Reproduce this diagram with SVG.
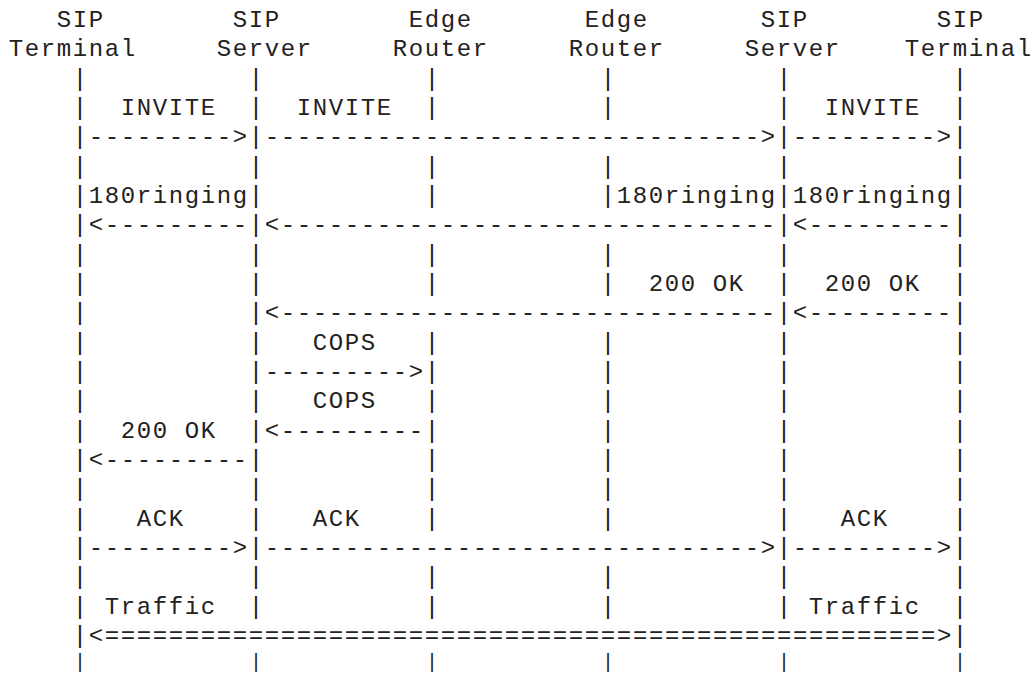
<svg xmlns="http://www.w3.org/2000/svg" width="1034" height="674" viewBox="0 0 1034 674">
  <style>
    /* monospace grid: 16px per column, 29.33px per row */
    .t { font-family: "Liberation Mono", "Courier New", monospace; font-size: 24px; letter-spacing: 1.6px; fill: #222; white-space: pre; }
    .bar { font-family: "Liberation Mono", "Courier New", monospace; font-size: 24px; text-anchor: middle; fill: #222; }
    .bar .end { font-size: 20px; }
  </style>
  <rect width="1034" height="674" fill="#fff"/>

  <!-- participants: header label and lifeline -->
  <g id="sip-terminal-left">
    <text class="t" x="56.8" y="27">SIP</text>
    <text class="t" x="8.8" y="56.33">Terminal</text>
    <text class="bar">
      <tspan x="80" y="85.67">|</tspan><tspan x="80" y="115">|</tspan><tspan x="80" y="144.33">|</tspan><tspan x="80" y="173.67">|</tspan><tspan x="80" y="203">|</tspan><tspan x="80" y="232.33">|</tspan><tspan x="80" y="261.67">|</tspan><tspan x="80" y="291">|</tspan><tspan x="80" y="320.33">|</tspan><tspan x="80" y="349.67">|</tspan><tspan x="80" y="379">|</tspan><tspan x="80" y="408.33">|</tspan><tspan x="80" y="437.67">|</tspan><tspan x="80" y="467">|</tspan><tspan x="80" y="496.33">|</tspan><tspan x="80" y="525.67">|</tspan><tspan x="80" y="555">|</tspan><tspan x="80" y="584.33">|</tspan><tspan x="80" y="613.67">|</tspan><tspan x="80" y="643">|</tspan><tspan class="end" x="80" y="667.8">|</tspan>
    </text>
  </g>

  <g id="sip-server-left">
    <text class="t" x="232.8" y="27">SIP</text>
    <text class="t" x="216.8" y="56.33">Server</text>
    <text class="bar">
      <tspan x="256" y="85.67">|</tspan><tspan x="256" y="115">|</tspan><tspan x="256" y="144.33">|</tspan><tspan x="256" y="173.67">|</tspan><tspan x="256" y="203">|</tspan><tspan x="256" y="232.33">|</tspan><tspan x="256" y="261.67">|</tspan><tspan x="256" y="291">|</tspan><tspan x="256" y="320.33">|</tspan><tspan x="256" y="349.67">|</tspan><tspan x="256" y="379">|</tspan><tspan x="256" y="408.33">|</tspan><tspan x="256" y="437.67">|</tspan><tspan x="256" y="467">|</tspan><tspan x="256" y="496.33">|</tspan><tspan x="256" y="525.67">|</tspan><tspan x="256" y="555">|</tspan><tspan x="256" y="584.33">|</tspan><tspan x="256" y="613.67">|</tspan><tspan class="end" x="256" y="667.8">|</tspan>
    </text>
  </g>

  <g id="edge-router-left">
    <text class="t" x="408.8" y="27">Edge</text>
    <text class="t" x="392.8" y="56.33">Router</text>
    <text class="bar">
      <tspan x="432" y="85.67">|</tspan><tspan x="432" y="115">|</tspan><tspan x="432" y="173.67">|</tspan><tspan x="432" y="203">|</tspan><tspan x="432" y="261.67">|</tspan><tspan x="432" y="291">|</tspan><tspan x="432" y="349.67">|</tspan><tspan x="432" y="379">|</tspan><tspan x="432" y="408.33">|</tspan><tspan x="432" y="437.67">|</tspan><tspan x="432" y="467">|</tspan><tspan x="432" y="496.33">|</tspan><tspan x="432" y="525.67">|</tspan><tspan x="432" y="584.33">|</tspan><tspan x="432" y="613.67">|</tspan><tspan class="end" x="432" y="667.8">|</tspan>
    </text>
  </g>

  <g id="edge-router-right">
    <text class="t" x="584.8" y="27">Edge</text>
    <text class="t" x="568.8" y="56.33">Router</text>
    <text class="bar">
      <tspan x="608" y="85.67">|</tspan><tspan x="608" y="115">|</tspan><tspan x="608" y="173.67">|</tspan><tspan x="608" y="203">|</tspan><tspan x="608" y="261.67">|</tspan><tspan x="608" y="291">|</tspan><tspan x="608" y="349.67">|</tspan><tspan x="608" y="379">|</tspan><tspan x="608" y="408.33">|</tspan><tspan x="608" y="437.67">|</tspan><tspan x="608" y="467">|</tspan><tspan x="608" y="496.33">|</tspan><tspan x="608" y="525.67">|</tspan><tspan x="608" y="584.33">|</tspan><tspan x="608" y="613.67">|</tspan><tspan class="end" x="608" y="667.8">|</tspan>
    </text>
  </g>

  <g id="sip-server-right">
    <text class="t" x="760.8" y="27">SIP</text>
    <text class="t" x="744.8" y="56.33">Server</text>
    <text class="bar">
      <tspan x="784" y="85.67">|</tspan><tspan x="784" y="115">|</tspan><tspan x="784" y="144.33">|</tspan><tspan x="784" y="173.67">|</tspan><tspan x="784" y="203">|</tspan><tspan x="784" y="232.33">|</tspan><tspan x="784" y="261.67">|</tspan><tspan x="784" y="291">|</tspan><tspan x="784" y="320.33">|</tspan><tspan x="784" y="349.67">|</tspan><tspan x="784" y="379">|</tspan><tspan x="784" y="408.33">|</tspan><tspan x="784" y="437.67">|</tspan><tspan x="784" y="467">|</tspan><tspan x="784" y="496.33">|</tspan><tspan x="784" y="525.67">|</tspan><tspan x="784" y="555">|</tspan><tspan x="784" y="584.33">|</tspan><tspan x="784" y="613.67">|</tspan><tspan class="end" x="784" y="667.8">|</tspan>
    </text>
  </g>

  <g id="sip-terminal-right">
    <text class="t" x="936.8" y="27">SIP</text>
    <text class="t" x="904.8" y="56.33">Terminal</text>
    <text class="bar">
      <tspan x="960" y="85.67">|</tspan><tspan x="960" y="115">|</tspan><tspan x="960" y="144.33">|</tspan><tspan x="960" y="173.67">|</tspan><tspan x="960" y="203">|</tspan><tspan x="960" y="232.33">|</tspan><tspan x="960" y="261.67">|</tspan><tspan x="960" y="291">|</tspan><tspan x="960" y="320.33">|</tspan><tspan x="960" y="349.67">|</tspan><tspan x="960" y="379">|</tspan><tspan x="960" y="408.33">|</tspan><tspan x="960" y="437.67">|</tspan><tspan x="960" y="467">|</tspan><tspan x="960" y="496.33">|</tspan><tspan x="960" y="525.67">|</tspan><tspan x="960" y="555">|</tspan><tspan x="960" y="584.33">|</tspan><tspan x="960" y="613.67">|</tspan><tspan x="960" y="643">|</tspan><tspan class="end" x="960" y="667.8">|</tspan>
    </text>
  </g>

  <!-- messages drawn as character arrows -->
  <g id="connectors">
    <!-- INVITE -->
    <text class="t" x="88.8" y="144.33">---------&gt;</text>
    <text class="t" x="264.8" y="144.33">-------------------------------&gt;</text>
    <text class="t" x="792.8" y="144.33">---------&gt;</text>
    <!-- 180 ringing -->
    <text class="t" x="88.8" y="232.33">&lt;---------</text>
    <text class="t" x="264.8" y="232.33">&lt;-------------------------------</text>
    <text class="t" x="792.8" y="232.33">&lt;---------</text>
    <!-- 200 OK towards the calling server -->
    <text class="t" x="264.8" y="320.33">&lt;-------------------------------</text>
    <text class="t" x="792.8" y="320.33">&lt;---------</text>
    <!-- COPS exchange -->
    <text class="t" x="264.8" y="379">---------&gt;</text>
    <text class="t" x="264.8" y="437.67">&lt;---------</text>
    <!-- 200 OK to the caller -->
    <text class="t" x="88.8" y="467">&lt;---------</text>
    <!-- ACK -->
    <text class="t" x="88.8" y="555">---------&gt;</text>
    <text class="t" x="264.8" y="555">-------------------------------&gt;</text>
    <text class="t" x="792.8" y="555">---------&gt;</text>
    <!-- media traffic -->
    <text class="t" x="88.8" y="643">&lt;====================================================&gt;</text>
  </g>

  <!-- message labels -->
  <g id="labels">
    <text class="t" x="120.8" y="115">INVITE</text>
    <text class="t" x="296.8" y="115">INVITE</text>
    <text class="t" x="824.8" y="115">INVITE</text>
    <text class="t" x="88.8" y="203">180ringing</text>
    <text class="t" x="616.8" y="203">180ringing</text>
    <text class="t" x="792.8" y="203">180ringing</text>
    <text class="t" x="648.8" y="291">200 OK</text>
    <text class="t" x="824.8" y="291">200 OK</text>
    <text class="t" x="312.8" y="349.67">COPS</text>
    <text class="t" x="312.8" y="408.33">COPS</text>
    <text class="t" x="120.8" y="437.67">200 OK</text>
    <text class="t" x="136.8" y="525.67">ACK</text>
    <text class="t" x="312.8" y="525.67">ACK</text>
    <text class="t" x="840.8" y="525.67">ACK</text>
    <text class="t" x="104.8" y="613.67">Traffic</text>
    <text class="t" x="808.8" y="613.67">Traffic</text>
  </g>
</svg>
